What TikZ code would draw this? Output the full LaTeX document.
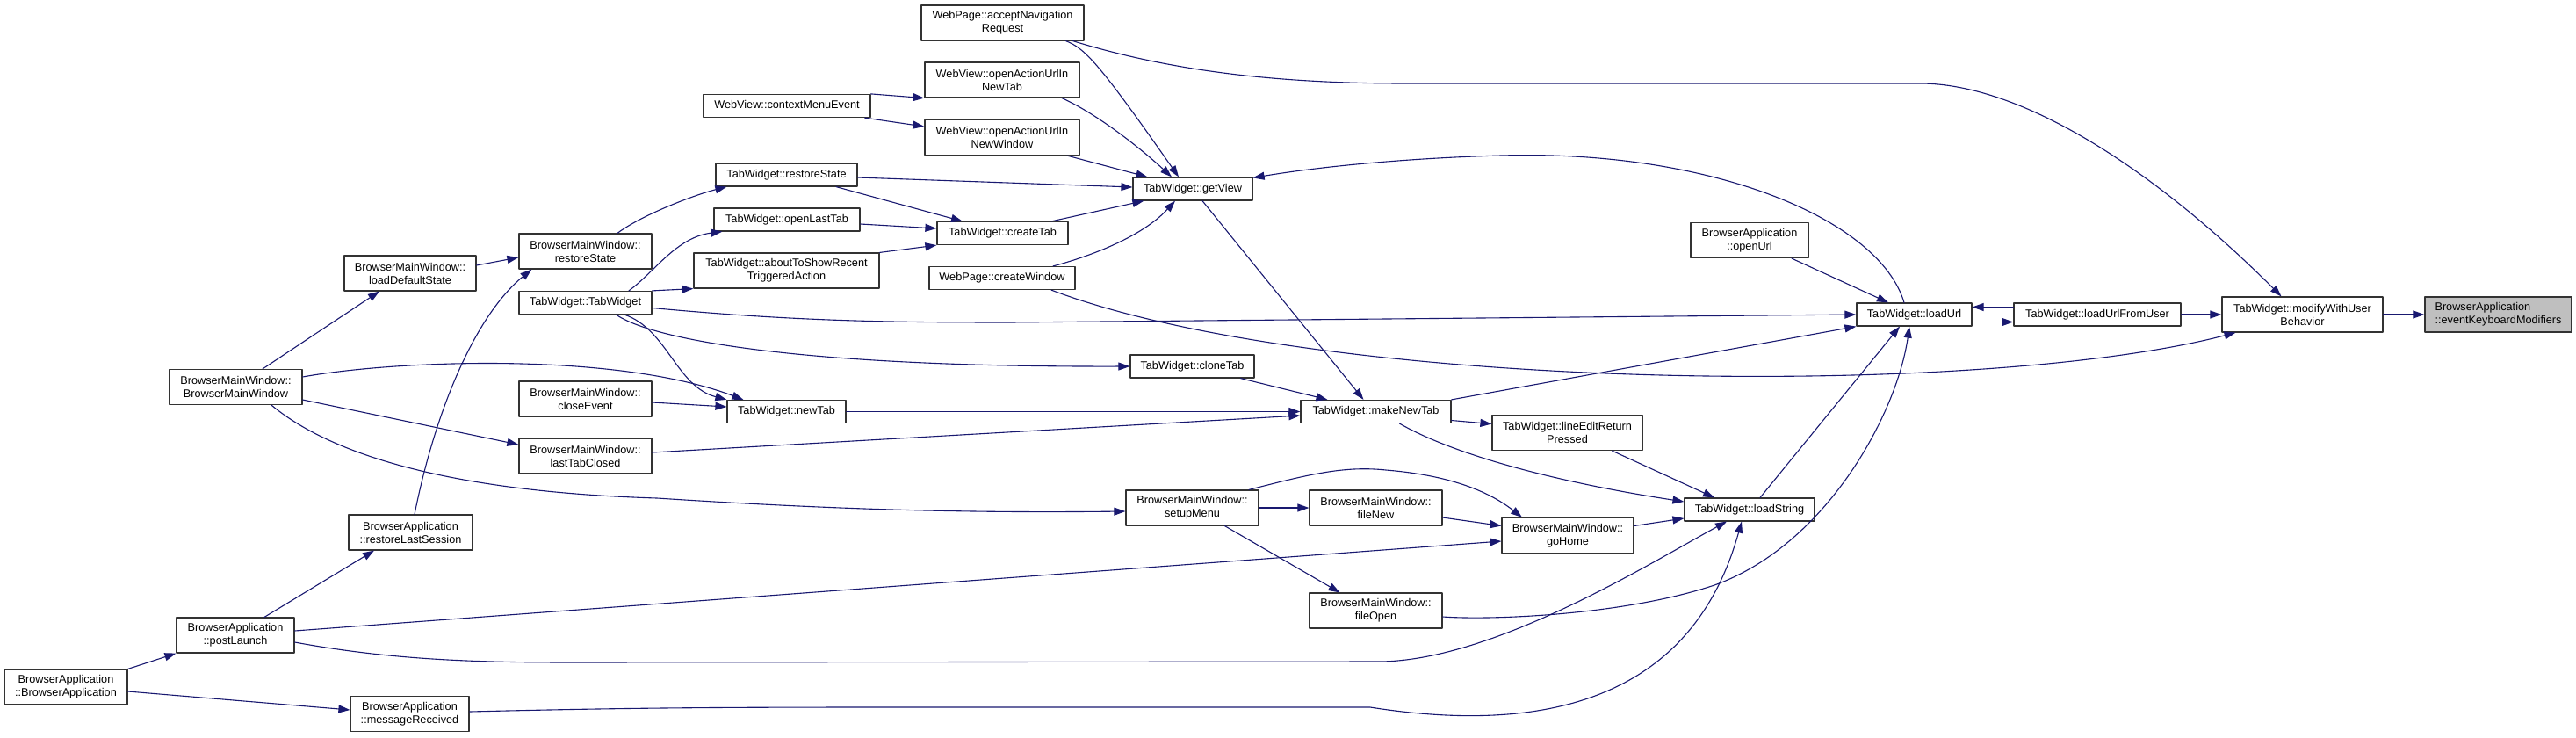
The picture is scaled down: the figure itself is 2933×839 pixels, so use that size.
\documentclass[tikz,border=0pt]{standalone}
\usepackage{fontspec}
\setmainfont{Liberation Sans}
\usetikzlibrary{arrows.meta,calc}
\definecolor{callblue}{HTML}{191970}
\definecolor{hitgray}{HTML}{BFBFBF}

\begin{document}
\begin{tikzpicture}[x=1pt, y=-1pt, line join=round, line cap=round,
    fn/.style={draw=black!80, line width=1.2pt, fill=white, inner sep=0pt,
      align=center, font=\fontsize{12.7}{15}\selectfont, minimum height=40pt},
    fn1/.style={fn, minimum height=26pt, text height=9.2pt, text depth=2.7pt},
    call/.style={draw=callblue, line width=1.1pt, -{Triangle[length=13pt,width=9pt]}}]
  \useasboundingbox (0,0) rectangle (2933,839);

  % --- 1. THE FUNCTIONS (one column per rank) ---
  \node[fn, minimum width=140pt] (ba) at (75,782) {BrowserApplication\\::BrowserApplication};

  \node[fn, minimum width=151pt] (bmw) at (268.5,440.5) {BrowserMainWindow::\\BrowserMainWindow};
  \node[fn, minimum width=134pt] (pl) at (268,723) {BrowserApplication\\::postLaunch};

  \node[fn, minimum width=150pt] (ldf) at (467,311) {BrowserMainWindow::\\loadDefaultState};
  \node[fn, minimum width=141pt] (rls) at (467.5,606) {BrowserApplication\\::restoreLastSession};
  \node[fn, minimum width=135pt] (mr) at (466.5,812.5) {BrowserApplication\\::messageReceived};

  \node[fn, minimum width=151pt] (bmwrs) at (666.5,286) {BrowserMainWindow::\\restoreState};
  \node[fn1, minimum width=151pt] (twtw) at (666.5,344.5) {TabWidget::TabWidget};
  \node[fn, minimum width=151pt] (cev) at (666.5,454) {BrowserMainWindow::\\closeEvent};
  \node[fn, minimum width=151pt] (ltc) at (666.5,519) {BrowserMainWindow::\\lastTabClosed};

  \node[fn1, minimum width=190pt] (cme) at (896,120.5) {WebView::contextMenuEvent};
  \node[fn1, minimum width=161pt] (twrs) at (895.5,199) {TabWidget::restoreState};
  \node[fn1, minimum width=166pt] (olt) at (896,250) {TabWidget::openLastTab};
  \node[fn, minimum width=211pt] (atsr) at (895.5,308) {TabWidget::aboutToShowRecent\\TriggeredAction};
  \node[fn1, minimum width=135pt] (newtab) at (895.5,468.5) {TabWidget::newTab};

  \node[fn, minimum width=185pt] (acc) at (1141.5,26) {WebPage::acceptNavigation\\Request};
  \node[fn, minimum width=176pt] (owtab) at (1141,91) {WebView::openActionUrlIn\\NewTab};
  \node[fn, minimum width=176pt] (owwin) at (1141,156.5) {WebView::openActionUrlIn\\NewWindow};
  \node[fn1, minimum width=149pt] (ctab) at (1141.5,265.5) {TabWidget::createTab};
  \node[fn1, minimum width=166pt] (cwin) at (1141,316.5) {WebPage::createWindow};

  \node[fn1, minimum width=136pt] (getview) at (1358,215) {TabWidget::getView};
  \node[fn1, minimum width=141pt] (clone) at (1357.5,417) {TabWidget::cloneTab};
  \node[fn, minimum width=151pt] (smenu) at (1357.5,578) {BrowserMainWindow::\\setupMenu};

  \node[fn1, minimum width=171pt] (mnt) at (1566.5,468.5) {TabWidget::makeNewTab};
  \node[fn, minimum width=151pt] (fnew) at (1566.5,578) {BrowserMainWindow::\\fileNew};
  \node[fn, minimum width=151pt] (fopen) at (1566.5,695) {BrowserMainWindow::\\fileOpen};

  \node[fn, minimum width=171pt] (lep) at (1784.5,492.5) {TabWidget::lineEditReturn\\Pressed};
  \node[fn, minimum width=150pt] (gohome) at (1785,609.5) {BrowserMainWindow::\\goHome};

  \node[fn, minimum width=134pt] (ourl) at (1992,273.5) {BrowserApplication\\::openUrl};
  \node[fn1, minimum width=148pt] (lstr) at (1992,580) {TabWidget::loadString};

  \node[fn1, minimum width=131pt] (loadurl) at (2179.5,358) {TabWidget::loadUrl};
  \node[fn1, minimum width=190pt] (lufu) at (2388,358) {TabWidget::loadUrlFromUser};
  \node[fn, minimum width=183pt] (modify) at (2621.5,358) {TabWidget::modifyWithUser\\Behavior};
  \node[fn, minimum width=167pt, fill=hitgray, align=left] (ekm) at (2844.5,358) {BrowserApplication\\::eventKeyboardModifiers};

  % --- 2. THE CALLS ---
  % plain straight ones
  \foreach \s/\t in {modify.east/ekm.west, lufu.east/modify.west, smenu.east/fnew.west,
                     newtab.east/mnt.west, atsr.north east/ctab.south west,
                     twtw.north east/atsr.south west, ba.north east/pl.south west,
                     mnt.north east/loadurl.south west, cme.north east/owtab.south west}
    \draw[call] (\s) -- (\t);

  % the two calls between loadUrl and loadUrlFromUser
  \draw[call] ($(loadurl.east)+(0,8.5)$) -- ($(lufu.west)+(0,8.5)$);
  \draw[call] ($(lufu.west)+(0,-8.5)$) -- ($(loadurl.east)+(0,-8.5)$);

  % into getView
  \draw[call] ($(acc.south)+(72,0)$) .. controls (1235,55) and (1250,70) .. ($(getview.north)+(-16,0)$);
  \draw[call] ($(owtab.south)+(68,0)$) .. controls (1250,130) and (1300,170) .. ($(getview.north)+(-24,0)$);
  \draw[call] ($(owwin.south)+(74,0)$) -- ($(getview.north west)+(17,0)$);
  \draw[call] ($(twrs.east)+(0,3)$) -- ($(getview.west)+(0,-2)$);
  \draw[call] ($(ctab.north)+(55.5,0)$) -- ($(getview.south west)+(13,0)$);
  \draw[call] ($(cwin.north)+(58,0)$) .. controls (1240,292) and (1300,270) .. ($(getview.south)+(-20,0)$);
  \draw[call] ($(loadurl.north)+(-11.5,0)$) .. controls (2140,250) and (1950,170) .. (1709,177)
                 .. controls (1600,180) and (1500,190) .. ($(getview.north east)+(0,1)$);
  \draw[call] ($(cme.south east)+(-7,0)$) -- ($(owwin.west)+(0,-12.5)$);

  % into createTab
  \draw[call] ($(twrs.south)+(56.5,0)$) -- ($(ctab.north)+(-45.5,0)$);
  \draw[call] ($(olt.east)+(0,5)$) -- ($(ctab.west)+(0,-5.5)$);

  % modifyWithUserBehavior from far left
  \draw[call] ($(acc.south)+(80,0)$) .. controls (1330,80) and (1450,95) .. (1600,95) -- (2186,95)
                 .. controls (2300,95) and (2450,190) .. ($(modify.north)+(-24,0)$);
  \draw[call] ($(cwin.south)+(56,0)$) .. controls (1500,445) and (2250,455) .. ($(modify.south)+(-76,0)$);

  % left part
  \draw[call] ($(bmw.north)+(30.5,0)$) -- ($(ldf.south)+(-35,0)$);
  \draw[call] ($(ldf.east)+(0,-9)$) -- ($(bmwrs.west)+(0,7)$);
  \draw[call] ($(rls.north)+(4.5,0)$) .. controls (495,470) and (540,360) .. ($(bmwrs.south west)+(15,0)$);
  \draw[call] ($(pl.north)+(33,0)$) -- ($(rls.south)+(-41.5,0)$);
  \draw[call] ($(ba.east)+(0,5)$) -- ($(mr.west)+(0,-4.5)$);
  \draw[call] ($(bmw.east)+(0,14.5)$) -- ($(ltc.west)+(0,-13)$);
  \draw[call] ($(bmwrs.north)+(36.5,0)$) .. controls (730,245) and (790,222) .. ($(twrs.south west)+(13,0)$);
  \draw[call] ($(twtw.north)+(49.5,0)$) .. controls (745,310) and (770,270) .. ($(olt.south west)+(10,0)$);
  \draw[call] ($(twtw.south)+(44.5,0)$) .. controls (760,375) and (770,440) .. (newtab.north west);
  \draw[call] ($(bmw.east)+(0,-11.5)$) .. controls (450,410) and (700,400) .. ($(newtab.north west)+(19,0)$);
  \draw[call] ($(cev.east)+(0,4)$) -- ($(newtab.west)+(0,-5.5)$);
  \draw[call] ($(twtw.south)+(35,0)$) .. controls (740,385) and (900,418) .. (clone.west);
  \draw[call] ($(twtw.east)+(0,6)$) .. controls (900,365) and (1000,367) .. (1150,367) -- (loadurl.west);

  % into makeNewTab
  \draw[call] ($(getview.south)+(11,0)$) -- ($(mnt.north)+(-14,0)$);
  \draw[call] ($(clone.south)+(55,0)$) -- ($(mnt.north)+(-55,0)$);
  \draw[call] ($(ltc.east)+(0,-4)$) -- ($(mnt.west)+(0,4.5)$);

  % setupMenu and goHome
  \draw[call] ($(bmw.south)+(40.5,0)$) .. controls (380,520) and (520,560) .. (748,567)
                 .. controls (950,580) and (1100,584) .. ($(smenu.west)+(0,4)$);
  \draw[call] ($(smenu.south)+(37,0)$) -- ($(fopen.north)+(-41,0)$);
  \draw[call] ($(smenu.north)+(64.5,0)$) .. controls (1490,540) and (1530,530) .. (1578,535)
                 .. controls (1640,540) and (1690,555) .. ($(gohome.north)+(-52,0)$);
  \draw[call] ($(fnew.east)+(0,11)$) -- ($(gohome.west)+(0,-11)$);
  \draw[call] ($(pl.east)+(0,-5)$) -- ($(gohome.west)+(0,6.5)$);

  % into loadString
  \draw[call] ($(gohome.east)+(0,-11)$) -- ($(lstr.west)+(0,10)$);
  \draw[call] ($(lep.south)+(51,0)$) -- ($(lstr.north)+(-40,0)$);
  \draw[call] ($(mnt.south)+(27,0)$) .. controls (1660,520) and (1780,550) .. ($(lstr.west)+(0,-9)$);
  \draw[call] ($(mnt.east)+(0,10)$) -- ($(lep.west)+(0,-10)$);
  \draw[call] ($(pl.east)+(0,8)$) .. controls (450,752) and (550,754) .. (655,754) -- (1569,753)
                 .. controls (1700,753) and (1880,640) .. ($(lstr.south)+(-26,0)$);
  \draw[call] ($(mr.east)+(0,-2.5)$) .. controls (700,806) and (800,805) .. (1000,805) -- (1560,805)
                 .. controls (1720,830) and (1920,820) .. ($(lstr.south)+(-9,0)$);

  % into loadUrl
  \draw[call] ($(fopen.east)+(0,7)$) .. controls (1700,706) and (1850,700) .. (1952,666)
                 .. controls (2080,620) and (2160,470) .. ($(loadurl.south)+(-5.5,0)$);
  \draw[call] ($(lstr.north)+(12,0)$) -- ($(loadurl.south)+(-16.5,0)$);
  \draw[call] ($(ourl.south)+(48,0)$) -- ($(loadurl.north)+(-29.5,0)$);
\end{tikzpicture}
\end{document}
